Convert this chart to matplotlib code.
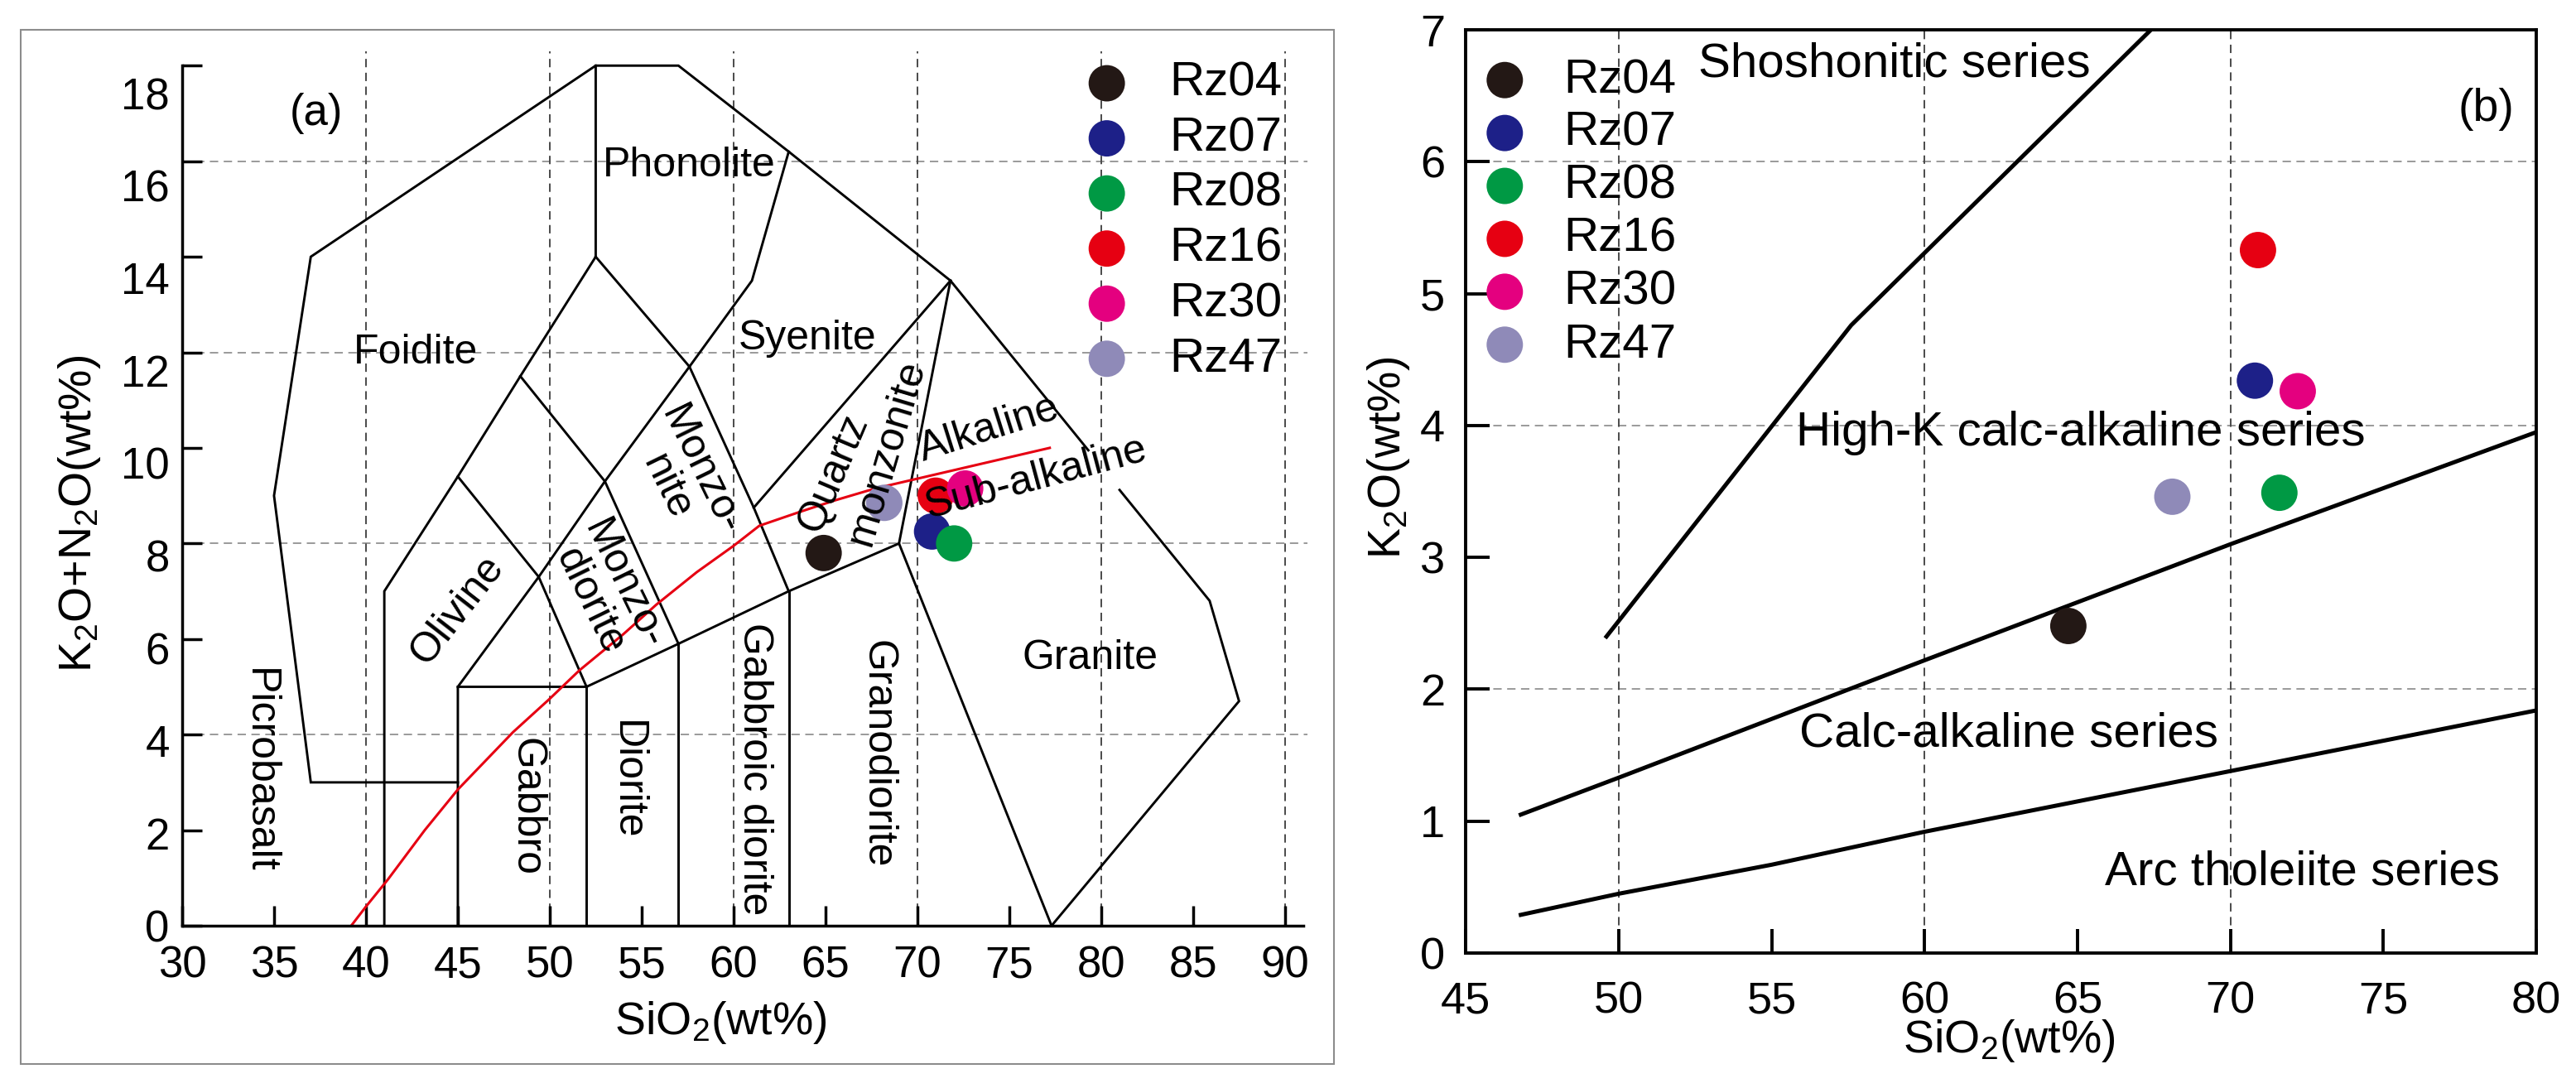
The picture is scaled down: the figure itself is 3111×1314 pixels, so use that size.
import numpy as np
import matplotlib
matplotlib.use('Agg')
import matplotlib.pyplot as plt
from matplotlib.patches import Rectangle
from matplotlib.transforms import ScaledTranslation

plt.rcParams['font.family'] = ['Liberation Sans', 'DejaVu Sans']
plt.rcParams['mathtext.fontset'] = 'custom'
plt.rcParams['mathtext.rm'] = 'Liberation Sans'
plt.rcParams['mathtext.it'] = 'Liberation Sans:italic'

# samples
samples = ['Rz04', 'Rz07', 'Rz08', 'Rz16', 'Rz30', 'Rz47']
colors = ['#231815', '#1d2088', '#009944', '#e60012', '#e4007f', '#8f8ab8']

# (a) TAS
tas_sio2 = [64.9, 70.8, 72.0, 71.0, 72.6, 68.2]
tas_alk = [7.8, 8.25, 8.0, 9.0, 9.15, 8.85]

# (b) SiO2 - K2O
k2o_sio2 = [64.7, 70.8, 71.6, 70.9, 72.2, 68.1]
k2o = [2.48, 4.34, 3.49, 5.33, 4.26, 3.46]

# TAS field boundaries (plutonic), polylines of (SiO2, Na2O+K2O)
tas_fields = [
    [(45, 3), (37, 3), (35, 9), (37, 14), (52.5, 18), (57, 18), (63, 16.2), (71.8, 13.5), (79.3, 9.95)],
    [(81.0, 9.12), (85.9, 6.8), (87.5, 4.7), (77.3, 0)],
    [(41, 0), (41, 7), (45, 9.4), (48.4, 11.5), (52.5, 14), (52.5, 18)],
    [(52.5, 14), (57.6, 11.7), (61, 13.5), (63, 16.2)],
    [(45, 0), (45, 5), (49.4, 7.3), (53, 9.3), (57.6, 11.7)],
    [(45, 9.4), (49.4, 7.3), (52, 5)],
    [(48.4, 11.5), (53, 9.3), (57, 5.9)],
    [(57.6, 11.7), (61.1, 8.75), (63, 7)],
    [(45, 5), (52, 5), (57, 5.9), (63, 7), (69, 8), (71.8, 13.5)],
    [(61.1, 8.75), (71.8, 13.5)],
    [(69, 8), (77.3, 0)],
    [(52, 0), (52, 5)],
    [(57, 0), (57, 5.9)],
    [(63, 0), (63, 7)],
]

# alkaline / sub-alkaline divide
alk_sio2 = [39.2, 40, 41.2, 43.2, 45, 48, 50, 51.6, 54, 55.8, 58, 60, 61.4, 63.6, 65.5, 67.7, 69.6, 77.2]
alk_total = [0, 0.4, 0.97, 2.0, 2.85, 4.05, 4.75, 5.34, 6.1, 6.72, 7.4, 7.95, 8.37, 8.66, 8.9, 9.15, 9.32, 10.0]

# (b) series boundaries
sho_x = [49.6, 57.6, 67.4]
sho_y = [2.4, 4.76, 7.0]
hk_x = [46.8, 50, 60, 70, 80]
hk_y = [1.05, 1.33, 2.22, 3.1, 3.95]
th_x = [46.8, 50, 55, 60, 70, 80]
th_y = [0.29, 0.45, 0.67, 0.92, 1.38, 1.84]

# field names: text, x, y, rotation
tas_names = [
    ('Foidite', 42.7, 12.0, 0),
    ('Phonolite', 57.6, 15.9, 0),
    ('Syenite', 64.0, 12.28, 0),
    ('Monzo-\nnite', 57.3, 9.35, -64),
    ('Monzo-\ndiorite', 53.1, 6.96, -64),
    ('Olivine', 45.0, 6.6, 52),
    ('Quartz', 65.45, 9.47, 67),
    ('monzonite', 68.35, 9.9, 73.5),
    ('Picrobasalt', 34.2, 3.24, -90),
    ('Gabbro', 48.7, 2.49, -90),
    ('Diorite', 54.2, 3.05, -90),
    ('Gabbroic diorite', 61.15, 3.28, -90),
    ('Granodiorite', 67.8, 3.6, -90),
    ('Granite', 79.4, 5.6, 0),
]
series_names = [
    ('Shoshonitic series', 52.6, 6.74),
    ('High-K calc-alkaline series', 55.8, 3.94),
    ('Calc-alkaline series', 55.9, 1.66),
    ('Arc tholeiite series', 65.9, 0.61),
]

HGRID = '#9a9a9a'
VGRID = '#4a4a4a'
grid_kw = dict(lw=1.4, dashes=(5.2, 3.4), zorder=0.5)

fig = plt.figure(figsize=(31.11, 13.14), dpi=100)
fig.add_artist(Rectangle((0.008, 0.0221), 0.5098, 0.9505, transform=fig.transFigure,
                         fill=False, edgecolor='#8c8c8c', lw=1.5))

# ---------------- (a) ----------------
ax1 = fig.add_axes([0.0707, 0.14916, 0.4367, 0.8037])
ax1.set_xlim(30, 91.2)
ax1.set_ylim(0, 18.3)
for s in ['top', 'right']:
    ax1.spines[s].set_visible(False)
ax1.spines['left'].set_bounds(0, 18)
ax1.spines['bottom'].set_bounds(30, 91)
for s in ['left', 'bottom']:
    ax1.spines[s].set_linewidth(2.5)
ax1.set_xticks(np.arange(30, 91, 5))
ax1.set_yticks(np.arange(0, 19, 2))
ax1.tick_params(direction='in', length=17, width=2.5, labelsize=38)
ax1.tick_params(axis='x', pad=17)
ax1.tick_params(axis='y', pad=11)
# the hand-drawn original has its y labels drifting slightly below the ticks
for v, lbl in zip(ax1.get_yticks(), ax1.get_yticklabels()):
    lbl.set_transform(lbl.get_transform() + ScaledTranslation(0, -0.0185 * v, fig.dpi_scale_trans))

for v in [4, 8, 12, 16]:
    ax1.axhline(v, color=HGRID, **grid_kw)
for v in [40, 50, 60, 70, 80, 90]:
    ax1.axvline(v, color=VGRID, **grid_kw)

for line in tas_fields:
    xs, ys = zip(*line)
    ax1.plot(xs, ys, color='black', lw=2.1, zorder=2, solid_joinstyle='miter')
ax1.plot(alk_sio2, alk_total, color='#e60012', lw=2.2, zorder=2.5)

for name, c, x, y in zip(samples, colors, tas_sio2, tas_alk):
    ax1.scatter(x, y, s=1000, color=c, edgecolors='none', zorder=3, label=name)

for txt, x, y, rot in tas_names:
    ax1.text(x, y, txt, fontsize=36, rotation=rot, ha='center', va='center',
             multialignment='center', linespacing=1.0, zorder=4)
ax1.text(74.1, 10.17, 'Alkaline', fontsize=36, rotation=17.5, rotation_mode='anchor',
         ha='center', va='baseline', zorder=4)
ax1.text(76.6, 9.15, 'Sub-alkaline', fontsize=36, rotation=15, rotation_mode='anchor',
         ha='center', va='baseline', zorder=4)
ax1.text(37.3, 17.0, '(a)', fontsize=38, ha='center', va='center')

ax1.legend(loc='upper left', bbox_to_anchor=(0.8005, 0.9887), frameon=False, fontsize=42,
           handlelength=1.0, handletextpad=0.8, labelspacing=0.215, borderpad=0,
           borderaxespad=0, scatterpoints=1)

fig.text(0.0309, 0.528, 'K$_2$O+N$_2$O(wt%)', rotation=90, fontsize=40, ha='center', va='center')
fig.text(0.2797, 0.060, 'SiO$_2$(wt%)', fontsize=40, ha='center', va='center')

# ---------------- (b) ----------------
ax2 = fig.add_axes([0.5690, 0.1240, 0.4156, 0.8486])
ax2.set_xlim(45, 80)
ax2.set_ylim(0, 7)
for s in ax2.spines.values():
    s.set_linewidth(2.8)
ax2.set_xticks(np.arange(45, 81, 5))
ax2.set_yticks(np.arange(0, 8, 1))
ax2.tick_params(direction='in', length=21, width=2.8, labelsize=39)
ax2.tick_params(axis='x', pad=24)
ax2.tick_params(axis='y', pad=18)

for v in [2, 4, 6]:
    ax2.axhline(v, color=HGRID, **grid_kw)
for v in [50, 60, 70]:
    ax2.axvline(v, color=VGRID, **grid_kw)

for xs, ys in [(sho_x, sho_y), (hk_x, hk_y), (th_x, th_y)]:
    ax2.plot(xs, ys, color='black', lw=3.6, zorder=2)

for name, c, x, y in zip(samples, colors, k2o_sio2, k2o):
    ax2.scatter(x, y, s=1000, color=c, edgecolors='none', zorder=3, label=name)

for txt, x, y in series_names:
    ax2.text(x, y, txt, fontsize=42, ha='left', va='center', zorder=4)
ax2.text(78.36, 6.4, '(b)', fontsize=40, ha='center', va='center')

ax2.legend(loc='upper left', bbox_to_anchor=(0.0139, 0.9695), frameon=False, fontsize=42,
           handlelength=1.0, handletextpad=0.72, labelspacing=0.17, borderpad=0,
           borderaxespad=0, scatterpoints=1)

fig.text(0.539, 0.579, 'K$_2$O(wt%)', rotation=90, fontsize=40, ha='center', va='center')
fig.text(0.780, 0.0434, 'SiO$_2$(wt%)', fontsize=40, ha='center', va='center')

fig.savefig('out.png', dpi=100)
